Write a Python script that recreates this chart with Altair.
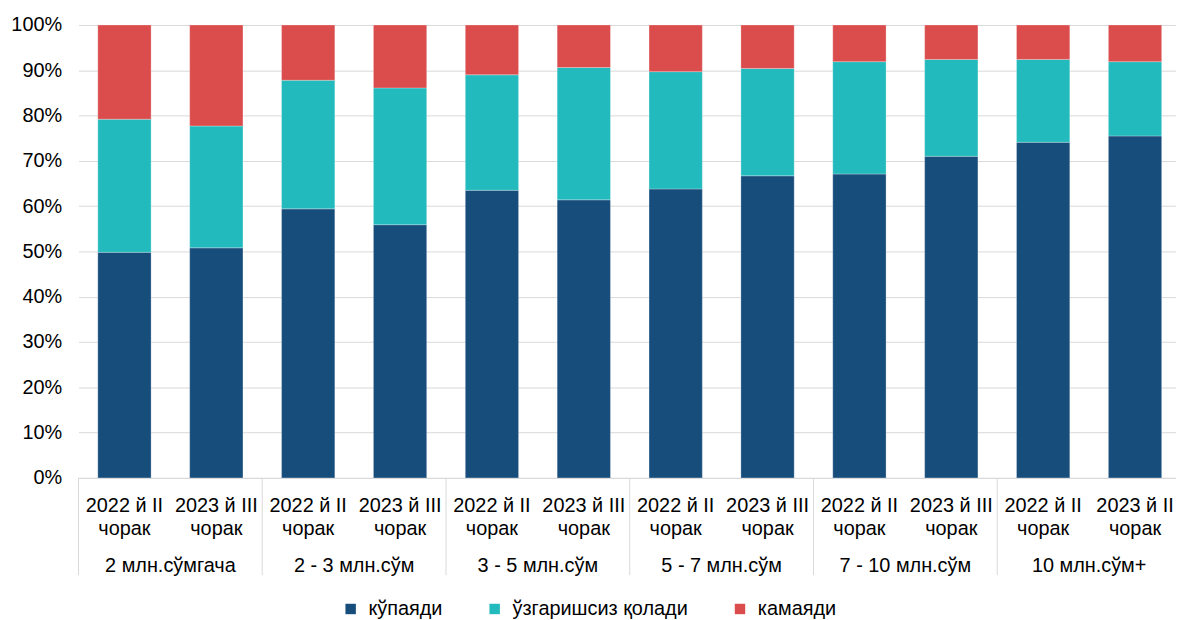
import altair as alt
import pandas as pd

# ---- data ----
groups = ["2 млн.сўмгача", "2 - 3 млн.сўм", "3 - 5 млн.сўм",
          "5 - 7 млн.сўм", "7 - 10 млн.сўм", "10 млн.сўм+"]
periods = ["2022 й II чорак", "2023 й III чорак",
           "2022 й II чорак", "2023 й III чорак",
           "2022 й II чорак", "2023 й III чорак",
           "2022 й II чорак", "2023 й III чорак",
           "2022 й II чорак", "2023 й III чорак",
           "2022 й II чорак", "2023 й II чорак"]
series = ["кўпаяди", "ўзгаришсиз қолади", "камаяди"]
colors = ["#174D7B", "#22BABC", "#DB4C4C"]
kupayadi = [49.8, 50.8, 59.4, 55.9, 63.5, 61.4, 63.8, 66.7, 67.1, 71.0, 74.1, 75.5]
uzgarishsiz = [29.4, 26.9, 28.4, 30.2, 25.5, 29.2, 25.9, 23.7, 24.8, 21.4, 18.3, 16.4]
kamayadi = [20.8, 22.3, 12.2, 13.9, 11.0, 9.4, 10.3, 9.6, 8.1, 7.6, 7.6, 8.1]
y_ticks = [0, 10, 20, 30, 40, 50, 60, 70, 80, 90, 100]

# ---- tables ----
keys = []
for i, p in enumerate(periods):
    a, b = p.rsplit(" ", 1)
    keys.append(f"{a}|{b}#{i}")

rows = []
for s_i, (name, vals) in enumerate(zip(series, [kupayadi, uzgarishsiz, kamayadi])):
    for i, v in enumerate(vals):
        rows.append({"key": keys[i], "group": groups[i // 2], "series": name,
                     "order": s_i, "value": v})
df = pd.DataFrame(rows)

grp_df = pd.DataFrame({"key": [keys[2 * g] for g in range(len(groups))],
                       "group": groups})

FONT = "Liberation Sans"
FS = 20
PAD_INNER = 0.42
STEP = 92.5
HALF_GAP = PAD_INNER * STEP / 2

x_axis = alt.Axis(title=None, labelExpr="split(split(datum.value,'#')[0],'|')",
                  labelAngle=0, labelFontSize=FS, labelLineHeight=23,
                  labelPadding=18, ticks=False, domainColor="#D9D9D9",
                  labelOverlap=False, labelLimit=300, labelColor="#000000",
                  labelFont=FONT)


def xenc(band_pos=None):
    kw = {}
    if band_pos is not None:
        kw["bandPosition"] = band_pos
    return alt.X("key:N", sort=keys, axis=x_axis,
                 scale=alt.Scale(range=[0, STEP * 12], paddingInner=PAD_INNER,
                                 paddingOuter=PAD_INNER / 2), **kw)


bars = alt.Chart(df).mark_bar(stroke="white", strokeWidth=0.8, strokeOpacity=0.35).encode(
    x=xenc(),
    y=alt.Y("value:Q", stack="zero",
            scale=alt.Scale(domain=[0, 100], nice=False),
            axis=alt.Axis(title=None, values=y_ticks, labelExpr="datum.value + '%'",
                          labelFontSize=FS, labelFont=FONT, labelColor="#000000",
                          ticks=False, domain=False, labelPadding=17,
                          gridColor="#D9D9D9", gridWidth=1)),
    color=alt.Color("series:N", scale=alt.Scale(domain=series, range=colors),
                    legend=alt.Legend(orient="none", legendX=264, legendY=578,
                                      direction="horizontal", title=None,
                                      symbolType="square", symbolSize=110,
                                      symbolStrokeWidth=0, labelFontSize=FS,
                                      labelFont=FONT, labelColor="#000000",
                                      labelOffset=8, labelLimit=400,
                                      columnPadding=42, padding=0)),
    order=alt.Order("order:Q"),
)

seps = alt.Chart(grp_df).mark_rule(color="#D9D9D9", strokeWidth=1,
                                   xOffset=-HALF_GAP).encode(
    x=xenc(0),
    y=alt.value(456),
    y2=alt.value(554),
)

glabels = alt.Chart(grp_df).mark_text(fontSize=FS, font=FONT, color="#000000",
                                      dx=HALF_GAP, align="center",
                                      baseline="alphabetic").encode(
    x=xenc(1),
    y=alt.value(551),
    text="group:N",
)

chart = alt.layer(bars, seps, glabels).properties(
    width=1105, height=456,
    autosize=alt.AutoSizeParams(type="none"),
    padding={"left": 71, "top": 15, "right": 0, "bottom": 141},
).configure_view(stroke=None)

chart.save("out.html", embed_options={"renderer": "svg", "actions": False})
